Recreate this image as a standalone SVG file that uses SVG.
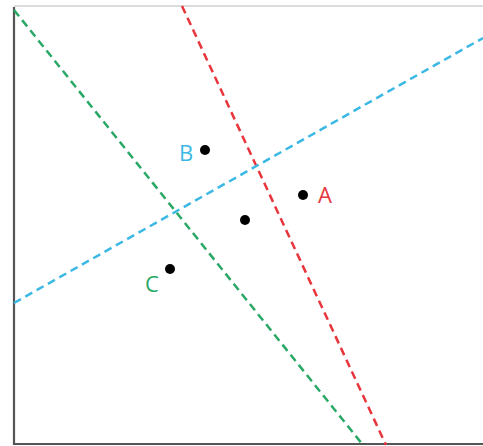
<svg xmlns="http://www.w3.org/2000/svg" width="483" height="446" viewBox="0 0 483 446">
<style>
.d{fill:#000}
.l{fill:none;stroke-width:2.5;stroke-dasharray:8 5}
.t{font-family:"Open Sans","Liberation Sans",sans-serif;font-size:22px;text-anchor:middle}
</style>
<rect width="483" height="446" fill="#fff"/>
<g id="frame">
<line x1="14" y1="6" x2="483" y2="6" stroke="#dcdcdc" stroke-width="2"/>
<polyline points="14,7 14,444 483,444" fill="none" stroke="#555" stroke-width="2.2"/>
</g>
<g id="connectors">
<line class="l" stroke="#e8353c" x1="182" y1="6" x2="386" y2="445"/>
<line class="l" stroke="#2aa866" x1="14" y1="10" x2="363" y2="445"/>
<line class="l" stroke="#3cb8e4" x1="14" y1="303" x2="483" y2="38"/>
</g>
<g id="A"><circle class="d" cx="303" cy="195" r="5"/><text class="t" x="325" y="203" fill="#e8353c">A</text></g>
<g id="B"><circle class="d" cx="205" cy="150" r="5"/><text class="t" x="186" y="161" fill="#3cb8e4">B</text></g>
<g id="C"><circle class="d" cx="170" cy="269" r="5"/><text class="t" x="152" y="292" fill="#2aa866">C</text></g>
<g id="O"><circle class="d" cx="245" cy="220" r="5"/></g>
</svg>
